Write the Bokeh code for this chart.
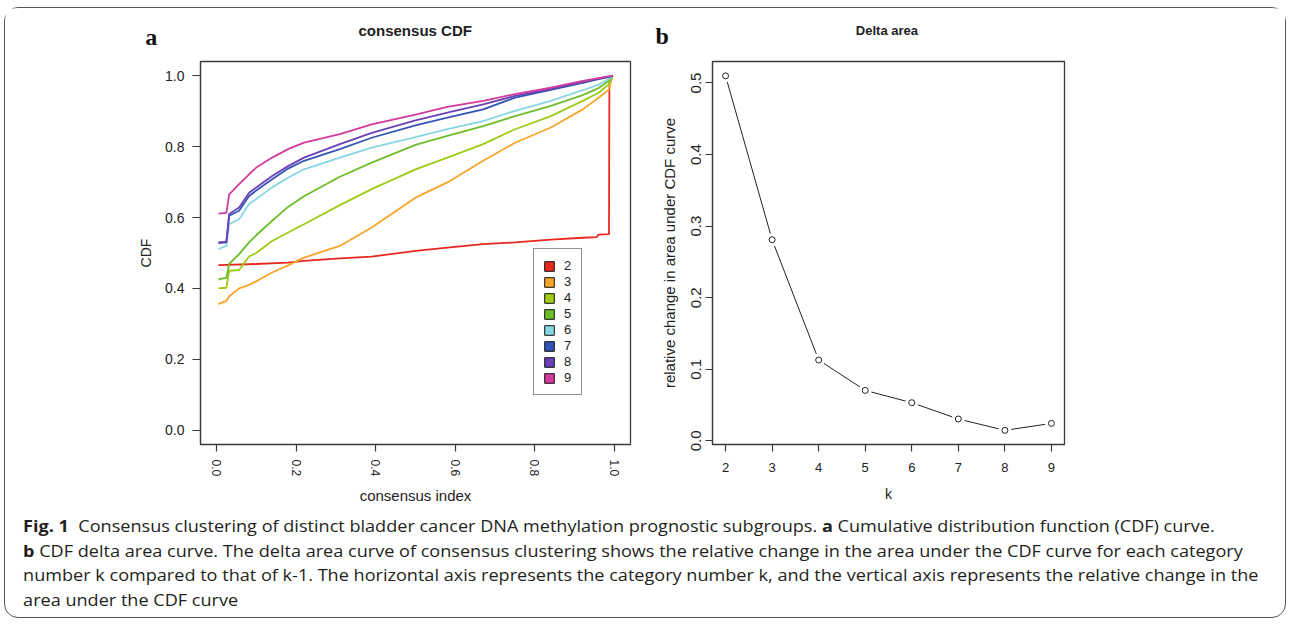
import math
from bokeh.plotting import figure
from bokeh.models import (Range1d, FixedTicker, PrintfTickFormatter, Legend,
                          LegendItem, Div)
from bokeh.core.properties import value
from bokeh.layouts import row, column
from bokeh.embed import file_html
from bokeh.resources import INLINE

# ---------------- data ----------------
cdf_x = [0.005, 0.025, 0.032, 0.057, 0.082, 0.10, 0.14, 0.18, 0.22, 0.31,
         0.39, 0.50, 0.58, 0.67, 0.75, 0.84, 0.92, 0.96, 0.985, 0.995]
cdf_k3 = [0.356, 0.365, 0.378, 0.400, 0.410, 0.420, 0.445, 0.465, 0.487, 0.520,
          0.572, 0.656, 0.699, 0.760, 0.811, 0.854, 0.905, 0.938, 0.960, 1.000]
cdf_k4 = [0.400, 0.402, 0.450, 0.452, 0.490, 0.500, 0.534, 0.558, 0.581, 0.635,
          0.680, 0.736, 0.769, 0.807, 0.849, 0.886, 0.929, 0.952, 0.975, 1.000]
cdf_k5 = [0.426, 0.430, 0.469, 0.497, 0.530, 0.550, 0.591, 0.630, 0.660, 0.715,
          0.755, 0.805, 0.830, 0.858, 0.886, 0.915, 0.945, 0.965, 0.985, 1.000]
cdf_k6 = [0.511, 0.520, 0.581, 0.595, 0.638, 0.652, 0.685, 0.712, 0.736, 0.769,
          0.797, 0.827, 0.849, 0.872, 0.901, 0.929, 0.959, 0.975, 0.990, 1.000]
cdf_k7 = [0.528, 0.530, 0.605, 0.619, 0.661, 0.676, 0.708, 0.738, 0.760, 0.793,
          0.825, 0.860, 0.882, 0.905, 0.938, 0.960, 0.980, 0.990, 0.996, 1.000]
cdf_k8 = [0.530, 0.532, 0.610, 0.628, 0.670, 0.685, 0.717, 0.745, 0.769, 0.807,
          0.839, 0.874, 0.896, 0.919, 0.943, 0.962, 0.983, 0.992, 0.997, 1.000]
cdf_k9 = [0.611, 0.613, 0.665, 0.694, 0.722, 0.741, 0.769, 0.793, 0.811, 0.835,
          0.863, 0.890, 0.912, 0.929, 0.948, 0.966, 0.985, 0.993, 0.998, 1.000]
cdf_k2_x = [0.005, 0.10, 0.18, 0.22, 0.31, 0.39, 0.50, 0.58, 0.67, 0.75, 0.84,
            0.92, 0.955, 0.96, 0.986, 0.987, 0.995]
cdf_k2 = [0.466, 0.469, 0.473, 0.478, 0.485, 0.490, 0.506, 0.515, 0.525, 0.530,
          0.538, 0.543, 0.545, 0.552, 0.553, 0.990, 1.000]

k_labels = ["2", "3", "4", "5", "6", "7", "8", "9"]
k_values = [2, 3, 4, 5, 6, 7, 8, 9]
delta_area = [0.510, 0.281, 0.113, 0.0706, 0.0534, 0.0306, 0.0148, 0.0245]

cdf_ticks = [0.0, 0.2, 0.4, 0.6, 0.8, 1.0]
delta_ticks = [0.0, 0.1, 0.2, 0.3, 0.4, 0.5]

panel_letters = ["a", "b"]
panel_titles = ["consensus CDF", "Delta area"]

colors = ["#E8281E", "#F8A52A", "#9FCB16", "#6DBE2A", "#88D6E4",
          "#3355B5", "#6B40B8", "#D23A9C"]

RFONT = "Liberation Sans"
INK = "#222222"
BOX = "#3a3a3a"


def style_axes(p):
    p.grid.visible = False
    p.outline_line_color = BOX
    p.outline_line_width = 1.3
    p.background_fill_color = "white"
    p.border_fill_color = "white"
    for ax in (p.xaxis[0], p.yaxis[0]):
        ax.axis_line_color = BOX
        ax.axis_line_width = 1.2
        ax.major_tick_line_color = BOX
        ax.major_tick_line_width = 1.2
        ax.major_tick_in = 0
        ax.minor_tick_line_color = None
        ax.major_label_text_font = RFONT
        ax.major_label_text_color = INK
        ax.axis_label_text_font = RFONT
        ax.axis_label_text_color = INK
        ax.axis_label_text_font_style = "normal"


# ---------------- header (panel letters + titles) ----------------
hdr = figure(width=1280, height=51, x_range=Range1d(0, 1280),
             y_range=Range1d(51, 0), output_backend="svg",
             toolbar_location=None, x_axis_type=None, y_axis_type=None,
             min_border=0)
hdr.grid.visible = False
hdr.outline_line_color = None
hdr.text(x=[145.7, 656.7], y=[28.5, 27.5], text=panel_letters,
         text_font=value("Liberation Serif"), text_font_style="bold",
         text_font_size="24px", text_color="#111111",
         text_align="center", text_baseline="middle")
hdr.text(x=[409.7, 881.4], y=[21.7, 21.7], text=panel_titles,
         text_font=value(RFONT), text_font_style="bold",
         text_font_size=["15px", "13px"], text_color=INK,
         text_align="center", text_baseline="middle")

# ---------------- panel a ----------------
pa = figure(width=643, height=455, x_range=Range1d(-0.04, 1.04),
            y_range=Range1d(-0.04, 1.04), output_backend="svg",
            toolbar_location=None, min_border_left=195, min_border_right=18,
            min_border_top=2, min_border_bottom=70)
style_axes(pa)
pa.xaxis.ticker = FixedTicker(ticks=cdf_ticks)
pa.yaxis.ticker = FixedTicker(ticks=cdf_ticks)
pa.xaxis.formatter = PrintfTickFormatter(format="%.1f")
pa.yaxis.formatter = PrintfTickFormatter(format="%.1f")
pa.xaxis.major_label_orientation = "vertical"
pa.xaxis.major_tick_out = 7
pa.yaxis.major_tick_out = 8
pa.xaxis.major_label_standoff = 8
pa.yaxis.major_label_standoff = 8
pa.xaxis.major_label_text_font_size = "12px"
pa.yaxis.major_label_text_font_size = "14px"
pa.xaxis.axis_label = "consensus index"
pa.yaxis.axis_label = "CDF"
pa.xaxis.axis_label_text_font_size = "15px"
pa.yaxis.axis_label_text_font_size = "14px"
pa.xaxis.axis_label_standoff = 8
pa.yaxis.axis_label_standoff = 8

series = [cdf_k2, cdf_k3, cdf_k4, cdf_k5, cdf_k6, cdf_k7, cdf_k8, cdf_k9]
items = []
for i, (lab, ys) in enumerate(zip(k_labels, series)):
    xs = cdf_k2_x if lab == "2" else cdf_x
    pa.line(xs, ys, line_color=colors[i], line_width=1.8)
nan = float("nan")
for i, lab in enumerate(k_labels):
    r = pa.quad(left=[nan], right=[nan], top=[nan], bottom=[nan],
                fill_color=colors[i], line_color="#111111", line_width=1)
    items.append(LegendItem(label=lab, renderers=[r]))

legend = Legend(items=items, location=(333, 49), padding=9, spacing=1,
                glyph_width=12, glyph_height=12, label_height=15, label_width=8,
                label_standoff=9, label_text_font=RFONT,
                label_text_font_size="13px", label_text_color=INK,
                border_line_color="#222222", border_line_width=1,
                background_fill_color="white", background_fill_alpha=1,
                margin=0)
pa.add_layout(legend)

# ---------------- panel b ----------------
pb = figure(width=637, height=455, x_range=Range1d(1.72, 9.28),
            y_range=Range1d(-0.005, 0.530), output_backend="svg",
            toolbar_location=None, min_border_left=64, min_border_right=221,
            min_border_top=2, min_border_bottom=70)
style_axes(pb)
pb.xaxis.ticker = FixedTicker(ticks=k_values)
pb.yaxis.ticker = FixedTicker(ticks=delta_ticks)
pb.yaxis.formatter = PrintfTickFormatter(format="%.1f")
pb.yaxis.major_label_orientation = "vertical"
pb.xaxis.major_tick_out = 7
pb.yaxis.major_tick_out = 7
pb.xaxis.major_label_standoff = 11
pb.yaxis.major_label_standoff = 4
pb.xaxis.major_label_text_font_size = "13px"
pb.yaxis.major_label_text_font_size = "15px"
pb.xaxis.axis_label = "k"
pb.yaxis.axis_label = "relative change in area under CDF curve"
pb.xaxis.axis_label_text_font_size = "14px"
pb.yaxis.axis_label_text_font_size = "15px"
pb.xaxis.axis_label_standoff = 11
pb.yaxis.axis_label_standoff = 11

pb.line(k_values, delta_area, line_color="#222222", line_width=1)
pb.scatter(k_values, delta_area, size=13, fill_color="white", line_color=None)
pb.scatter(k_values, delta_area, size=6, fill_color="white",
           line_color="#222222", line_width=1)

# ---------------- caption ----------------
caption_html = (
    "<div style=\"font-family:'Open Sans';font-size:16px;line-height:24.5px;"
    "color:#231f20;padding-left:16px;white-space:nowrap;"
    "transform:scaleX(1.13);transform-origin:0 0;\">"
    "<b>Fig.&nbsp;1</b>&nbsp;&nbsp;Consensus clustering of distinct bladder cancer DNA "
    "methylation prognostic subgroups. <b>a</b> Cumulative distribution function "
    "(CDF) curve.<br>"
    "<b>b</b> CDF delta area curve. The delta area curve of consensus clustering "
    "shows the relative change in the area under the CDF curve for each category<br>"
    "number k compared to that of k-1. The horizontal axis represents the category "
    "number k, and the vertical axis represents the relative change in the<br>"
    "area under the CDF curve</div>"
)
cap = Div(text=caption_html, width=1280, height=103, margin=0)

layout = column(hdr, row(pa, pb), cap,
                styles={"border": "1.3px solid #555555", "border-radius": "14px",
                        "background-color": "white",
                        "margin": "7px 0px 0px 4px"})

open("out.html", "w").write(file_html(layout, INLINE))
